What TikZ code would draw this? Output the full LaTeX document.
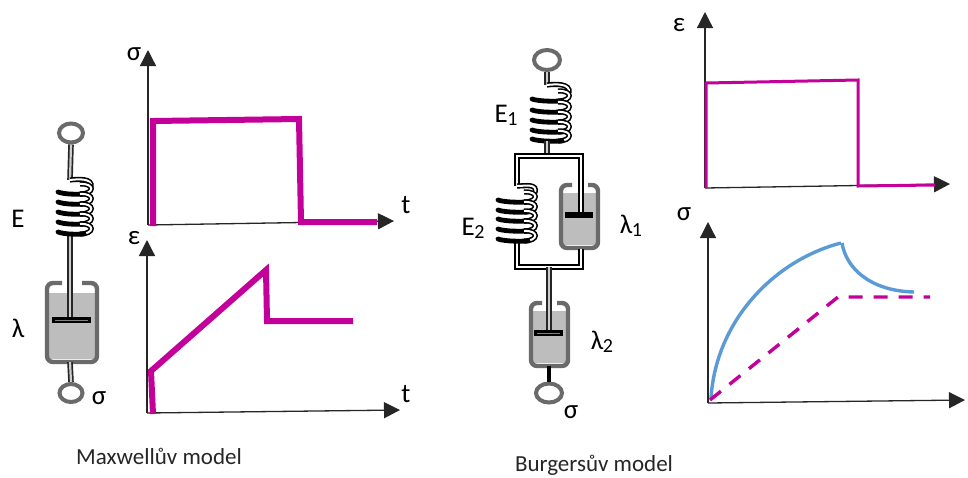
\documentclass[tikz,border=0pt]{standalone}
\usepackage{fontspec}
\setmainfont{Carlito}
\usetikzlibrary{arrows.meta,shapes.geometric}
\definecolor{mag}{HTML}{C4009B}
\definecolor{blu}{HTML}{5B9BD5}
\definecolor{liq}{HTML}{BDBDBD}
\definecolor{wallc}{HTML}{6A6A6A}
\newcommand{\subn}[1]{\kern-0.5pt\raisebox{-3pt}{\fontsize{20}{22}\selectfont #1}}
\tikzset{
 axisline/.style={black!85,line width=1.3pt,-{Triangle[length=16pt,width=16pt]}},
 thickcurve/.style={mag,line width=6pt,line join=miter},
 thincurve/.style={mag,line width=3pt,line join=miter},
 bluecurve/.style={blu,line width=3.4pt},
 rodline/.style={black!85,line width=1.7pt,double=white!80!black,double distance=2.2pt},
 coilline/.style={black,line width=1.6pt,double=white,double distance=2pt},
 coilfront/.style={black,line width=4.8pt,line cap=round},
 ringshape/.style={ellipse,draw=wallc,line width=4pt,fill=white,inner sep=0pt,minimum width=#1},
 wallline/.style={wallc,line width=4.4pt,rounded corners=6pt},
 platebar/.style={black,line width=6pt},
 plategap/.style={white!50!black,line width=1pt},
 framerail/.style={black,line width=2.2pt,double=white,double distance=1.4pt},
 lab/.style={font=\fontsize{27}{30}\selectfont,inner sep=0pt},
 caption/.style={font=\fontsize{23}{26}\selectfont,inner sep=0pt,text=black!85},
}
\newcommand{\coilturn}[3]{%
 \draw[coilline] (#2-12,#3+2) .. controls (#2+3,#3+2) and (#2+3,#3-9) .. (#2-12,#3-8);
 \draw[coilfront] (#1+2,#3) .. controls (#1+9,#3+2.5) and (#2-14,#3+2.5) .. (#2-8,#3+1.8);
}
\newcommand{\dashpot}[7]{%
 \fill[liq] (#1,#5) rectangle (#2,#4-3);
 \draw[wallline] (#6,#3) -- (#1,#3) -- (#1,#4) -- (#2,#4) -- (#2,#3) -- (#7,#3);
}
\begin{document}
\begin{tikzpicture}[x=1pt,y=-1pt]
\useasboundingbox (0,0) rectangle (968,477);
\fill[white] (0,0) rectangle (968,477);
%%% Maxwell mechanical model
\node[ringshape=24pt,minimum height=19pt] (mring1) at (71,133) {};
\node[ringshape=23pt,minimum height=18pt] (mring2) at (71,393) {};
\coordinate (mrodA) at (70,180);
\coordinate (mrodB) at (70,234);
\coordinate (mplate) at (70,320);
\dashpot{47}{97}{283}{362}{293}{62}{82}
\draw[rodline] (mring1.south) -- (mrodA);
\draw[rodline] (mrodB) -- (mplate);
\draw[rodline] (70,362) -- (mring2.north);
\draw[coilline] (mrodA) .. controls (78,179) and (93,178) .. (91,187);
\foreach \yy in {192,202,212,222,232} {\coilturn{56}{92}{\yy}}
\draw[platebar] (52,320) -- (91,320);
\draw[plategap] (55,320) -- (88,320);
%%% Burgers mechanical model
\node[ringshape=26pt,minimum height=20pt] (bring1) at (547,60) {};
\node[ringshape=26pt,minimum height=19pt] (bring2) at (549,393) {};
\coordinate (bA) at (547,85);
\coordinate (bB) at (547,141);
\coordinate (bC) at (547,156);
\coordinate (fTR) at (581,156);
\coordinate (fBL) at (517,267);
\coordinate (bD) at (549,267);
\coordinate (bE) at (549,333);
\draw[rodline] (bring1.south) -- (bA);
\draw[coilline] (bA) .. controls (555,84) and (571,83) .. (569,93);
\foreach \yy in {99,110,120,130,139} {\coilturn{530}{570}{\yy}}
\draw[rodline] (bB) -- (bC);
\dashpot{561}{598}{185}{248}{193}{572}{588}
\draw[framerail] (517,186) -- (517,156) -- (fTR) -- (581,215);
\draw[framerail] (517,241) -- (fBL) -- (581,267) -- (581,249);
\draw[coilline] (517,186) .. controls (525,186) and (538,183) .. (535,193);
\foreach \yy in {200,210,219,229,239} {\coilturn{496}{536}{\yy}}
\draw[platebar] (565,215) -- (593,215);
\dashpot{531}{568}{303}{366}{311}{542}{557}
\draw[rodline] (bD) -- (bE);
\draw[black,line width=4pt] (549,366) -- (bring2.north);
\draw[platebar] (534,333) -- (563,333);
\draw[plategap] (537,333.5) -- (560,333.5);
%%% Left graphs
\coordinate (g1o) at (148,225); \coordinate (g1y) at (148,50); \coordinate (g1x) at (394,221);
\coordinate (g2o) at (147,413); \coordinate (g2y) at (147,240); \coordinate (g2x) at (400,410);
\draw[axisline] (g1o) -- (g1y);
\draw[axisline] (g1o) -- (g1x);
\draw[axisline] (g2o) -- (g2y);
\draw[axisline] (g2o) -- (g2x);
\draw[thickcurve] (153,226) -- (153,121) -- (299,119) -- (301,222) -- (377,222);
\draw[thickcurve] (153,414) -- (151,371) -- (266,270) -- (267,321) -- (353,321);
%%% Right graphs
\coordinate (g3o) at (705,188); \coordinate (g3y) at (705,12); \coordinate (g3x) at (950,184);
\coordinate (g4o) at (708,403); \coordinate (g4y) at (708,222); \coordinate (g4x) at (965,400);
\draw[axisline] (g3o) -- (g3y);
\draw[axisline] (g3o) -- (g3x);
\draw[axisline] (g4o) -- (g4y);
\draw[axisline] (g4o) -- (g4x);
\draw[thincurve] (706,188) -- (706,83) -- (858,80) -- (858,186) -- (935,185);
\draw[bluecurve] (711,398) .. controls (716,320) and (775,260) .. (841,243);
\draw[bluecurve] (842,243) .. controls (846,268) and (870,291) .. (914,292);
\draw[mag,line width=3.4pt,dash pattern=on 14pt off 11pt] (710,400) -- (838,297) -- (930,297);
%%% Labels
\node[lab] (lE) at (18,219) {E};
\node[lab] (lL) at (18,328) {λ};
\node[lab] (lS) at (99,398) {σ};
\node[lab] (lg1) at (134,54) {σ};
\node[lab] (lt1) at (406,205) {t};
\node[lab] (lg2) at (134,238) {ε};
\node[lab] (lt2) at (406,394) {t};
\node[lab] (lE1) at (506,115) {E\subn{1}};
\node[lab] (lE2) at (473,228) {E\subn{2}};
\node[lab] (lL1) at (631,226) {λ\subn{1}};
\node[lab] (lL2) at (602,342) {λ\subn{2}};
\node[lab] (lS2) at (571,412) {σ};
\node[lab] (lg3) at (679,25) {ε};
\node[lab] (lg4) at (684,214) {σ};
\node[caption] (cap1) at (159,456) {Maxwellův model};
\node[caption] (cap2) at (594,465) {Burgersův model};
\end{tikzpicture}
\end{document}
